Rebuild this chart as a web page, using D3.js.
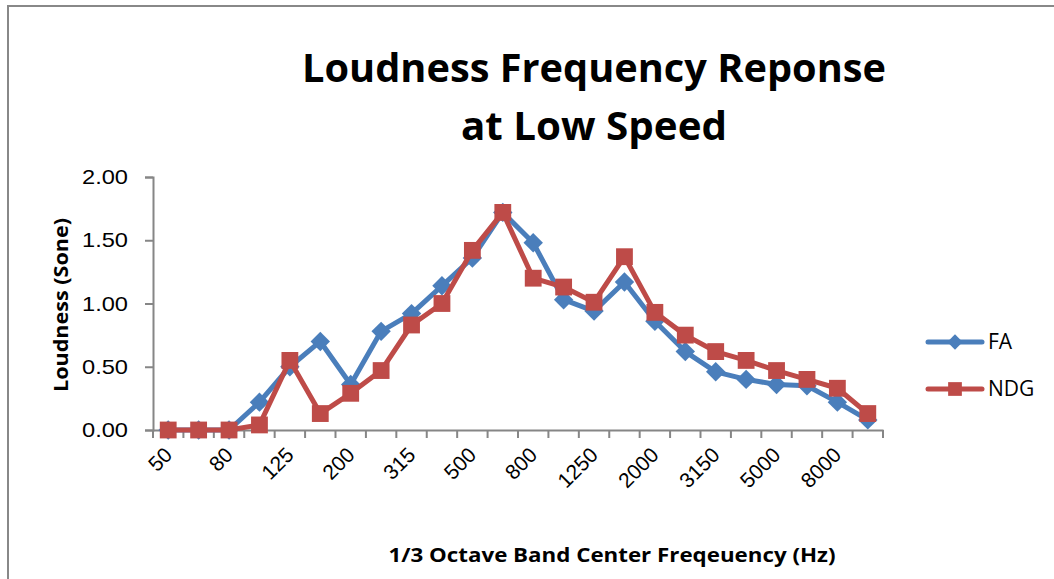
<!DOCTYPE html>
<html>
<head>
<meta charset="utf-8">
<script src="https://cdn.jsdelivr.net/npm/d3@7"></script>
<style>
  body { margin: 0; background: #fff; }
  svg { font-family: "Open Sans", "Noto Sans", sans-serif; }
</style>
</head>
<body>
<div id="chart"></div>
<script>
// 1/3 octave bands
var bands = ["50", "63", "80", "100", "125", "160", "200", "250", "315", "400", "500", "630",
             "800", "1000", "1250", "1600", "2000", "2500", "3150", "4000", "5000", "6300", "8000", "10000"];
// only every second band gets a label
var bandLabels = ["50", "80", "125", "200", "315", "500", "800", "1250", "2000", "3150", "5000", "8000"];

var faValues  = [0, 0, 0, 0.22, 0.50, 0.70, 0.36, 0.78, 0.92, 1.14, 1.36, 1.72,
                 1.48, 1.03, 0.94, 1.17, 0.86, 0.62, 0.46, 0.40, 0.36, 0.35, 0.22, 0.08];
var ndgValues = [0, 0, 0, 0.04, 0.55, 0.13, 0.29, 0.47, 0.83, 1.00, 1.42, 1.72,
                 1.20, 1.13, 1.01, 1.37, 0.93, 0.75, 0.62, 0.55, 0.47, 0.40, 0.33, 0.13];
var yTicks = [0, 0.5, 1, 1.5, 2];

var series = [
  {name: "FA", values: faValues, color: "#4a7ebb", shape: "diamond"},
  {name: "NDG", values: ndgValues, color: "#be4b48", shape: "square"}
];

var W = 1054, H = 579;
var plot = {left: 153, right: 883, top: 177, bottom: 430};

var svg = d3.select("#chart").append("svg")
    .attr("width", W)
    .attr("height", H);

// chart area border (runs off the right and bottom edges)
svg.append("rect")
    .attr("x", 8).attr("y", 6)
    .attr("width", W + 20).attr("height", H + 20)
    .attr("fill", "#fff")
    .attr("stroke", "#888")
    .attr("stroke-width", 2);

var x = d3.scaleBand()
    .domain(bands)
    .range([plot.left, plot.right])
    .padding(0);

var y = d3.scaleLinear()
    .domain([0, 2])
    .range([plot.bottom, plot.top]);

// y axis
var yAxis = d3.axisLeft(y)
    .tickValues(yTicks)
    .tickSize(8)
    .tickPadding(17)
    .tickFormat(d3.format(".2f"));

var gy = svg.append("g")
    .attr("transform", "translate(" + plot.left + ",0)")
    .call(yAxis);
gy.selectAll("line, path").attr("stroke", "#868686").attr("stroke-width", 2);
gy.selectAll("text")
    .attr("font-size", 21)
    .attr("fill", "#000")
    .attr("textLength", 46)
    .attr("lengthAdjust", "spacingAndGlyphs");

// x axis: ticks at the band boundaries, labels every other band
var xAxis = d3.axisBottom(x).tickSize(0).tickFormat("");
var gx = svg.append("g")
    .attr("transform", "translate(0," + plot.bottom + ")")
    .call(xAxis);
gx.select("path").attr("stroke", "#868686").attr("stroke-width", 2);

var boundaries = bands.map(function(b) { return x(b); }).concat([plot.right]);
gx.selectAll(".btick")
    .data(boundaries)
  .enter().append("line")
    .attr("class", "btick")
    .attr("x1", function(d) { return d; })
    .attr("x2", function(d) { return d; })
    .attr("y1", 0)
    .attr("y2", 8)
    .attr("stroke", "#868686")
    .attr("stroke-width", 2);

gx.selectAll(".blabel")
    .data(bandLabels)
  .enter().append("text")
    .attr("class", "blabel")
    .attr("text-anchor", "end")
    .attr("font-size", 21)
    .attr("fill", "#000")
    .attr("transform", function(d) {
        return "translate(" + (x(d) + x.bandwidth() / 2) + ",21) rotate(-45)";
    })
    .attr("dy", "0.35em")
    .text(function(d) { return d; });

// lines and markers
var line = d3.line()
    .x(function(d, i) { return x(bands[i]) + x.bandwidth() / 2; })
    .y(function(d) { return y(d); })
    .curve(d3.curveLinear);

var diamond = d3.symbol().type(d3.symbolDiamond2).size(240);
var square = d3.symbol().type(d3.symbolSquare2).size(360);

series.forEach(function(s) {
    var g = svg.append("g");
    g.append("path")
        .datum(s.values)
        .attr("fill", "none")
        .attr("stroke", s.color)
        .attr("stroke-width", 5)
        .attr("stroke-linejoin", "round")
        .attr("d", line);
    g.selectAll(".pt")
        .data(s.values)
      .enter().append("path")
        .attr("class", "pt")
        .attr("transform", function(d, i) {
            return "translate(" + (x(bands[i]) + x.bandwidth() / 2) + "," + y(d) + ")";
        })
        .attr("d", s.shape === "diamond" ? diamond : square)
        .attr("fill", s.color);
});

// legend
var legend = svg.append("g");
series.forEach(function(s, i) {
    var ly = 342 + i * 47;
    legend.append("line")
        .attr("x1", 928).attr("x2", 982)
        .attr("y1", ly).attr("y2", ly)
        .attr("stroke", s.color)
        .attr("stroke-width", 5)
        .attr("stroke-linecap", "round");
    legend.append("path")
        .attr("transform", "translate(955," + ly + ")")
        .attr("d", s.shape === "diamond"
            ? d3.symbol().type(d3.symbolDiamond2).size(150)()
            : d3.symbol().type(d3.symbolSquare2).size(240)())
        .attr("fill", s.color);
    legend.append("text")
        .attr("x", 988).attr("y", ly)
        .attr("dy", "0.35em")
        .attr("font-size", 21)
        .attr("fill", "#000")
        .text(s.name);
});

// titles
var title = svg.append("text")
    .attr("text-anchor", "middle")
    .attr("font-weight", "bold")
    .attr("font-size", 39)
    .attr("fill", "#000");
title.append("tspan").attr("x", 594).attr("y", 82)
    .attr("textLength", 584).attr("lengthAdjust", "spacingAndGlyphs")
    .text("Loudness Frequency Reponse");
title.append("tspan").attr("x", 594).attr("y", 140)
    .attr("textLength", 266).attr("lengthAdjust", "spacingAndGlyphs")
    .text("at Low Speed");

svg.append("text")
    .attr("transform", "translate(68,305) rotate(-90)")
    .attr("text-anchor", "middle")
    .attr("font-weight", "bold")
    .attr("font-size", 20)
    .attr("fill", "#000")
    .attr("textLength", 174).attr("lengthAdjust", "spacingAndGlyphs")
    .text("Loudness (Sone)");

svg.append("text")
    .attr("x", 612).attr("y", 562)
    .attr("text-anchor", "middle")
    .attr("font-weight", "bold")
    .attr("font-size", 20)
    .attr("fill", "#000")
    .attr("textLength", 447).attr("lengthAdjust", "spacingAndGlyphs")
    .text("1/3 Octave Band Center Freqeuency (Hz)");
</script>
</body>
</html>
